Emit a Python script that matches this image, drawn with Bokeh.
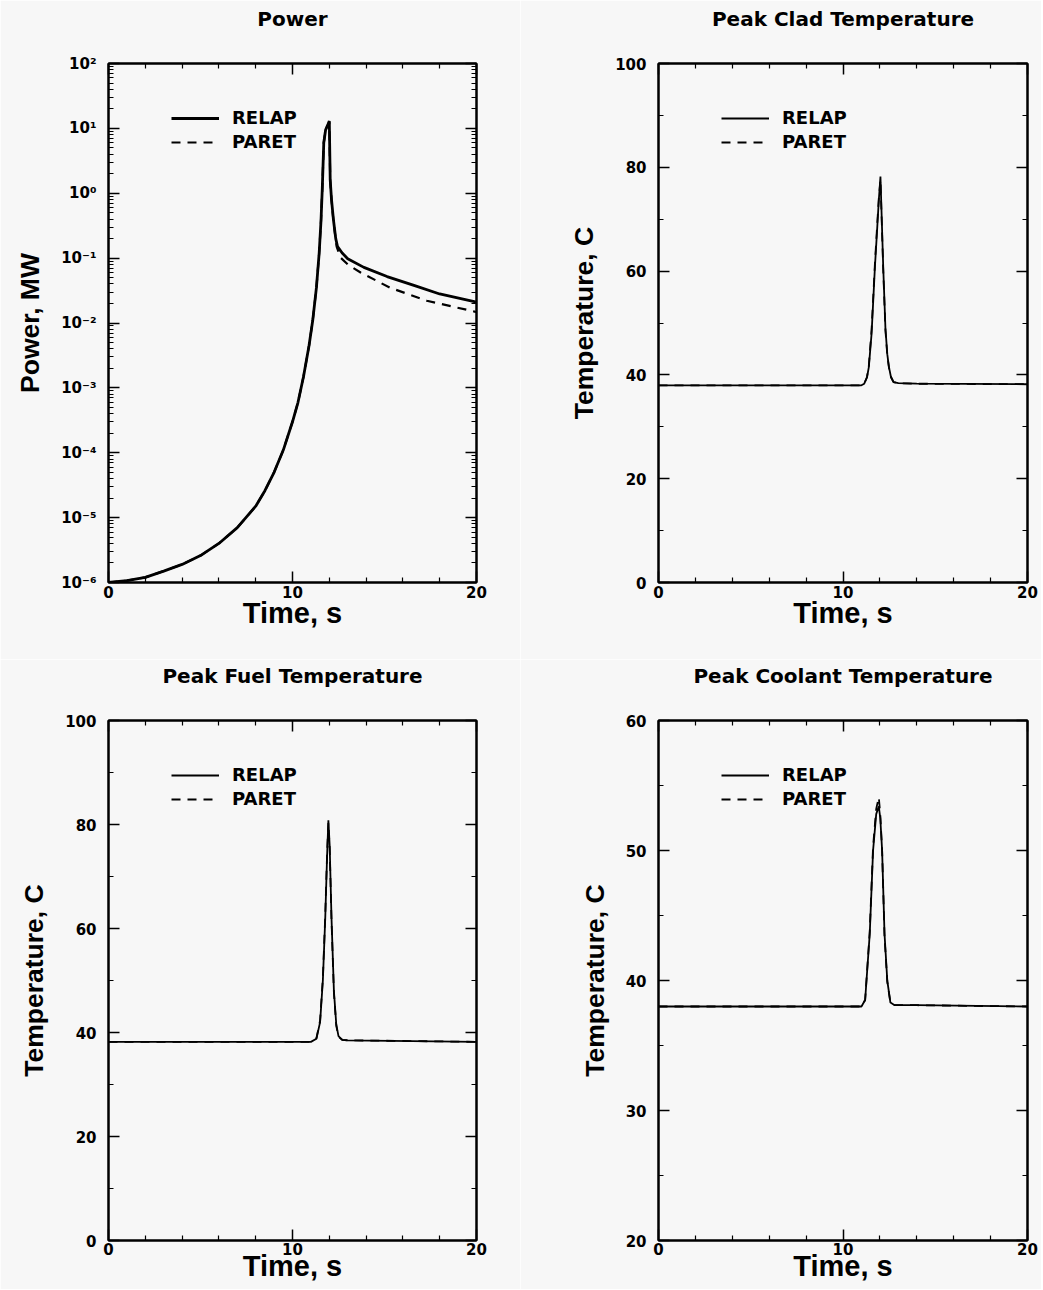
from bokeh.plotting import figure
from bokeh.layouts import column, row
from bokeh.models import (Range1d, FixedTicker, LinearAxis, LogAxis, Legend,
                          LegendItem, CustomJSTickFormatter)
from bokeh.embed import file_html
from bokeh.resources import INLINE

# ---------------- data ----------------
power_time = [0, 1, 2, 3, 4, 5, 6, 7, 8, 8.5, 9, 9.5, 10, 10.3, 10.6, 10.9,
              11.1, 11.3, 11.45, 11.55, 11.62, 11.7, 11.8, 11.9, 12.0, 12.05,
              12.12, 12.23, 12.35, 12.45, 12.7, 13.0, 13.88, 15.14, 16.6,
              18.0, 20.0]
power_relap = [1.0e-6, 1.07e-6, 1.2e-6, 1.5e-6, 1.9e-6, 2.6e-6, 4.0e-6, 7e-6,
               1.5e-5, 2.6e-5, 5e-5, 1.1e-4, 3e-4, 6e-4, 1.5e-3, 4.5e-3,
               1.1e-2, 0.035, 0.12, 0.38, 1.2, 6.0, 9.5, 11.0, 13.0, 1.6,
               0.8, 0.38, 0.2, 0.15, 0.12, 0.098, 0.072, 0.052, 0.038,
               0.028, 0.021]
paret_time = [0, 1, 2, 3, 4, 5, 6, 7, 8, 8.5, 9, 9.5, 10, 10.3, 10.6, 10.9,
              11.1, 11.3, 11.45, 11.55, 11.62, 11.7, 11.8, 11.9, 12.0, 12.05,
              12.12, 12.23, 12.4, 12.61, 13.0, 13.7, 15.3, 17.3, 19.9, 20.0]
power_paret = [1.0e-6, 1.07e-6, 1.2e-6, 1.5e-6, 1.9e-6, 2.6e-6, 4.0e-6, 7e-6,
               1.5e-5, 2.6e-5, 5e-5, 1.1e-4, 3e-4, 6e-4, 1.5e-3, 4.5e-3,
               1.1e-2, 0.035, 0.12, 0.38, 1.2, 6.0, 9.5, 11.0, 12.5, 1.6,
               0.8, 0.36, 0.15, 0.102, 0.080, 0.060, 0.035, 0.022, 0.015,
               0.0148]

clad_time = [0, 11.0, 11.15, 11.3, 11.4, 11.55, 11.73, 11.85, 11.94, 12.03,
             12.07, 12.18, 12.3, 12.4, 12.49, 12.6, 12.74, 13.0, 14.0, 20.0]
clad_relap = [38.0, 38.0, 38.3, 39.5, 41.5, 48.0, 60.8, 68.0, 73.6, 78.2,
              73.6, 60.8, 49.0, 44.0, 41.5, 39.6, 38.6, 38.4, 38.3, 38.2]
clad_paret = [38.0, 38.0, 38.3, 39.6, 41.8, 48.8, 61.5, 68.8, 74.0, 77.6,
              73.0, 60.2, 48.6, 43.8, 41.4, 39.6, 38.6, 38.4, 38.3, 38.2]

fuel_time = [0, 11.0, 11.3, 11.5, 11.65, 11.78, 11.88, 11.95, 12.02, 12.12,
             12.25, 12.38, 12.5, 12.7, 13.0, 20.0]
fuel_relap = [38.2, 38.2, 38.8, 42.0, 50.0, 62.0, 74.0, 80.8, 76.0, 62.0,
              48.0, 41.5, 39.3, 38.6, 38.5, 38.2]
fuel_paret = [38.2, 38.2, 38.9, 42.3, 50.5, 62.6, 74.5, 80.3, 75.5, 61.5,
              47.6, 41.3, 39.2, 38.6, 38.5, 38.2]

cool_time = [0, 11.0, 11.2, 11.45, 11.63, 11.8, 11.94, 12.02, 12.12, 12.25,
             12.4, 12.57, 12.8, 14.0, 20.0]
cool_relap = [38.0, 38.0, 38.5, 43.6, 50.0, 52.8, 53.4, 52.5, 50.0, 43.6,
              40.0, 38.3, 38.1, 38.1, 38.0]
cool_paret = [38.0, 38.0, 38.5, 43.8, 50.3, 53.2, 54.1, 52.8, 50.0, 43.4,
              39.9, 38.3, 38.1, 38.1, 38.0]

x_ticks = [0, 10, 20]
x_minor = [2, 4, 6, 8, 12, 14, 16, 18]
power_ticks = [1e-6, 1e-5, 1e-4, 1e-3, 1e-2, 1e-1, 1e0, 1e1, 1e2]
power_minor = [m * 10.0 ** e for e in range(-6, 2) for m in range(2, 10)]
clad_ticks = [0, 20, 40, 60, 80, 100]
clad_minor = [10, 30, 50, 70, 90]
cool_ticks = [20, 30, 40, 50, 60]
cool_minor = [25, 35, 45, 55]

titles = ["Power", "Peak Clad Temperature", "Peak Fuel Temperature",
          "Peak Coolant Temperature"]
series_labels = ["RELAP", "PARET"]
x_label = "Time, s"
y_labels = ["Power, MW", "Temperature, C", "Temperature, C", "Temperature, C"]

# ---------------- styling helpers ----------------
BG = "#f7f7f7"
TICK_FONT = "DejaVu Sans"
LABEL_FONT = "Liberation Sans"

blank_fmt = CustomJSTickFormatter(code='return "";')


def style_axis(ax, show_labels=True):
    ax.axis_line_color = "black"
    ax.axis_line_width = 2
    ax.major_tick_in = 11
    ax.major_tick_out = 0
    ax.minor_tick_in = 5
    ax.minor_tick_out = 0
    ax.major_tick_line_color = "black"
    ax.minor_tick_line_color = "black"
    ax.major_tick_line_width = 1.5
    ax.minor_tick_line_width = 1.2
    ax.major_label_text_font = TICK_FONT
    ax.major_label_text_font_style = "bold"
    ax.major_label_text_color = "black"
    ax.major_label_text_font_size = "15px"
    if not show_labels:
        ax.formatter = blank_fmt
        ax.major_label_standoff = 0
        ax.major_label_text_font_size = "1px"


def make_fig(w, h, left, right, top, bottom, y_range, y_type="linear"):
    p = figure(width=w, height=h, x_range=Range1d(0, 20), y_range=y_range,
               y_axis_type=y_type, output_backend="svg", toolbar_location=None,
               title=None,
               min_border_left=left, min_border_right=right,
               min_border_top=top, min_border_bottom=bottom,
               background_fill_color=BG, border_fill_color=BG)
    p.outline_line_color = "black"
    p.outline_line_width = 2
    p.xgrid.visible = False
    p.ygrid.visible = False
    return p


def finish(p, title, yt, ymt, ylabel, log=False, tick_standoff=3,
           label_standoff=-4):
    p.xaxis.ticker = FixedTicker(ticks=x_ticks, minor_ticks=x_minor)
    p.yaxis.ticker = FixedTicker(ticks=yt, minor_ticks=ymt)
    for ax in p.xaxis:
        style_axis(ax)
        ax.axis_label = x_label
        ax.axis_label_text_font = LABEL_FONT
        ax.axis_label_text_font_style = "bold"
        ax.axis_label_text_font_size = "29px"
        ax.axis_label_text_color = "black"
        ax.axis_label_standoff = label_standoff
        ax.major_label_standoff = tick_standoff
    for ax in p.yaxis:
        style_axis(ax)
        ax.axis_label = ylabel
        ax.axis_label_text_font = LABEL_FONT
        ax.axis_label_text_font_style = "bold"
        ax.axis_label_text_font_size = "26.5px"
        ax.axis_label_text_color = "black"
        ax.axis_label_standoff = 13
        ax.major_label_standoff = 12
    # top mirror axis; its label carries the panel title
    top_ax = LinearAxis(ticker=FixedTicker(ticks=x_ticks, minor_ticks=x_minor))
    style_axis(top_ax, show_labels=False)
    top_ax.axis_label = title
    top_ax.axis_label_text_font = "DejaVu Sans"
    top_ax.axis_label_text_font_style = "bold"
    top_ax.axis_label_text_font_size = "20px"
    top_ax.axis_label_text_color = "black"
    top_ax.axis_label_standoff = 33
    p.add_layout(top_ax, "above")
    if log:
        right_ax = LogAxis(ticker=FixedTicker(ticks=yt, minor_ticks=ymt))
    else:
        right_ax = LinearAxis(ticker=FixedTicker(ticks=yt, minor_ticks=ymt))
    style_axis(right_ax, show_labels=False)
    p.add_layout(right_ax, "right")


def add_legend(p, r1, r2, frame_h, top_gap=46):
    leg = Legend(items=[LegendItem(label=series_labels[0], renderers=[r1]),
                        LegendItem(label=series_labels[1], renderers=[r2])],
                 location=(63, frame_h - top_gap - 43),
                 glyph_width=48, glyph_height=20, label_height=20,
                 label_standoff=13, spacing=3, padding=0, margin=0,
                 border_line_color=None, background_fill_alpha=0,
                 label_text_font="DejaVu Sans", label_text_font_style="bold",
                 label_text_font_size="18px", label_text_color="black")
    p.add_layout(leg)


LW_P = 2.8
LW_T = 1.8
DASH = "9 7"

# ---------------- Power ----------------
p1 = make_fig(520, 659, 108, 44, 63, 77, Range1d(1e-6, 1e2), "log")
r1a = p1.line(power_time, power_relap, line_color="black", line_width=LW_P)
r1b = p1.line(paret_time, power_paret, line_color="black", line_width=LW_P - 0.6,
              line_dash=DASH)
finish(p1, titles[0], power_ticks, power_minor, y_labels[0], log=True)
p1.yaxis[0].formatter = CustomJSTickFormatter(code="""
const sup = {"-":"\u207b","0":"\u2070","1":"\u00b9","2":"\u00b2","3":"\u00b3",
             "4":"\u2074","5":"\u2075","6":"\u2076","7":"\u2077","8":"\u2078","9":"\u2079"};
const e = Math.round(Math.log10(tick));
return "10" + String(e).split("").map(c => sup[c]).join("");
""")
add_legend(p1, r1a, r1b, 519)

# ---------------- Clad ----------------
p2 = make_fig(521, 659, 138, 14, 63, 77, Range1d(0, 100))
r2a = p2.line(clad_time, clad_relap, line_color="black", line_width=LW_T)
r2b = p2.line(clad_time, clad_paret, line_color="black", line_width=LW_T,
              line_dash=DASH)
finish(p2, titles[1], clad_ticks, clad_minor, y_labels[1])
add_legend(p2, r2a, r2b, 519)

# ---------------- Fuel ----------------
p3 = make_fig(520, 630, 108, 44, 61, 49, Range1d(0, 100))
r3a = p3.line(fuel_time, fuel_relap, line_color="black", line_width=LW_T)
r3b = p3.line(fuel_time, fuel_paret, line_color="black", line_width=LW_T,
              line_dash=DASH)
finish(p3, titles[2], clad_ticks, clad_minor, y_labels[2], tick_standoff=2,
       label_standoff=-8)
add_legend(p3, r3a, r3b, 520)

# ---------------- Coolant ----------------
p4 = make_fig(521, 630, 138, 14, 61, 49, Range1d(20, 60))
r4a = p4.line(cool_time, cool_relap, line_color="black", line_width=LW_T)
r4b = p4.line(cool_time, cool_paret, line_color="black", line_width=LW_T,
              line_dash=DASH)
finish(p4, titles[3], cool_ticks, cool_minor, y_labels[3], tick_standoff=2,
       label_standoff=-8)
add_legend(p4, r4a, r4b, 520)

layout = column(row(p1, p2), row(p3, p4))

with open("out.html", "w") as f:
    f.write(file_html(layout, INLINE))
